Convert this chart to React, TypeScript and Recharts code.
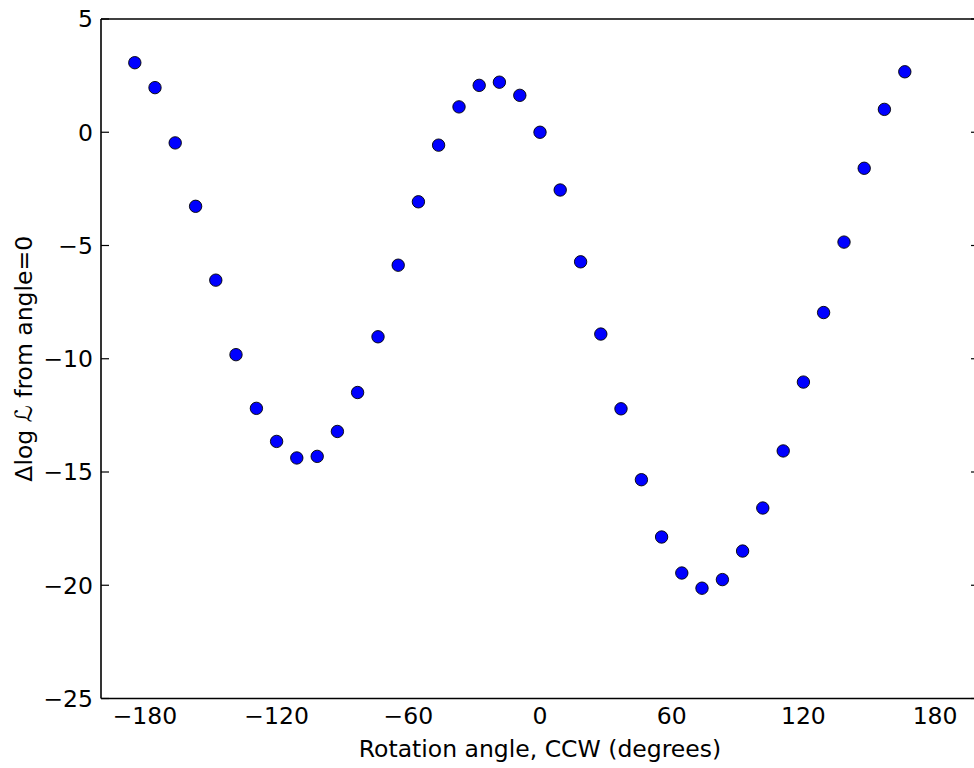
import React from 'react';
import { ScatterChart, Scatter, XAxis, YAxis, Label } from 'recharts';

const angles = [
  -184.6, -175.4, -166.2, -156.9, -147.7, -138.5, -129.2, -120.0, -110.8, -101.5,
  -92.3, -83.1, -73.8, -64.6, -55.4, -46.2, -36.9, -27.7, -18.5, -9.2,
  0.0, 9.2, 18.5, 27.7, 36.9, 46.2, 55.4, 64.6, 73.8, 83.1,
  92.3, 101.5, 110.8, 120.0, 129.2, 138.5, 147.7, 156.9, 166.2,
];

const deltaLogL = [
  3.07, 1.97, -0.47, -3.27, -6.53, -9.82, -12.19, -13.65, -14.38, -14.31,
  -13.21, -11.49, -9.03, -5.87, -3.07, -0.57, 1.12, 2.07, 2.21, 1.63,
  0.0, -2.55, -5.72, -8.91, -12.21, -15.34, -17.87, -19.46, -20.13, -19.75,
  -18.49, -16.59, -14.07, -11.03, -7.96, -4.85, -1.59, 1.01, 2.67,
];

const xTicks = [-180, -120, -60, 0, 60, 120, 180];
const yTicks = [-25, -20, -15, -10, -5, 0, 5];
const xDomain: [number, number] = [-200, 200];
const yDomain: [number, number] = [-25, 5];

const data = angles.map((a, i) => ({ angle: a, dlogl: deltaLogL[i] }));

const fmt = (v: number) => (v < 0 ? `\u2212${Math.abs(v)}` : `${v}`);

const Dot = (props: any) => {
  const { cx, cy } = props;
  return <circle cx={cx} cy={cy} r={6.2} fill="#0000ff" stroke="#000" strokeWidth={0.9} />;
};

const EmptyTick = () => <g />;

const FS = 23.5;
const tickStyle = { fill: '#000', fontSize: FS, fontFamily: 'DejaVu Sans' };
const spine = { stroke: '#000', strokeWidth: 1.6 };
const tickLn = { stroke: '#000', strokeWidth: 1.2 };

export default function App() {
  return (
    <div
      style={{
        position: 'absolute',
        left: 0,
        top: 0,
        width: 974,
        height: 768,
        overflow: 'hidden',
        background: '#fff',
        fontFamily: 'DejaVu Sans',
      }}
    >
      <ScatterChart width={990} height={768} margin={{ top: 19, right: 11, bottom: 0, left: 0 }}>
        <XAxis
          xAxisId="b"
          dataKey="angle"
          type="number"
          domain={xDomain}
          ticks={xTicks}
          allowDataOverflow
          orientation="bottom"
          height={69.5}
          tickLine={false}
          tickSize={0}
          tickMargin={9}
          tickFormatter={fmt}
          tick={tickStyle}
          axisLine={spine}
        >
          <Label
            content={(p: any) => {
              const vb = p.viewBox || {};
              return (
                <text
                  x={vb.x + vb.width / 2}
                  y={757}
                  textAnchor="middle"
                  fontSize={FS}
                  fontFamily="DejaVu Sans"
                  fill="#000"
                >
                  Rotation angle, CCW (degrees)
                </text>
              );
            }}
          />
        </XAxis>
        <XAxis
          xAxisId="bm"
          type="number"
          domain={xDomain}
          ticks={xTicks}
          allowDataOverflow
          orientation="bottom"
          mirror
          height={1}
          tick={EmptyTick}
          tickSize={8}
          tickLine={tickLn}
          axisLine={false}
        />
        <XAxis
          xAxisId="t"
          type="number"
          domain={xDomain}
          ticks={xTicks}
          allowDataOverflow
          orientation="top"
          mirror
          height={1}
          tick={EmptyTick}
          tickSize={8}
          tickLine={tickLn}
          axisLine={spine}
        />
        <YAxis
          yAxisId="l"
          dataKey="dlogl"
          type="number"
          domain={yDomain}
          ticks={yTicks}
          allowDataOverflow
          orientation="left"
          width={101}
          tickLine={false}
          tickSize={0}
          tickMargin={8}
          tickFormatter={fmt}
          tick={tickStyle}
          axisLine={spine}
        >
          <Label
            content={(p: any) => {
              const vb = p.viewBox || {};
              const cy = vb.y + vb.height / 2;
              return (
                <text
                  x={32}
                  y={cy}
                  transform={`rotate(-90, 32, ${cy})`}
                  textAnchor="middle"
                  fontSize={FS}
                  fontFamily="DejaVu Sans"
                  fill="#000"
                >
                  {'\u0394log '}
                  <tspan fontStyle="italic">{'\u2112'}</tspan>
                  {' from angle=0'}
                </text>
              );
            }}
          />
        </YAxis>
        <YAxis
          yAxisId="lm"
          type="number"
          domain={yDomain}
          ticks={yTicks}
          allowDataOverflow
          orientation="left"
          mirror
          width={1}
          tick={EmptyTick}
          tickSize={8}
          tickLine={tickLn}
          axisLine={false}
        />
        <YAxis
          yAxisId="r"
          type="number"
          domain={yDomain}
          ticks={yTicks}
          allowDataOverflow
          orientation="right"
          mirror
          width={1}
          tick={EmptyTick}
          tickSize={8}
          tickLine={tickLn}
          axisLine={spine}
        />
        <Scatter
          data={data}
          xAxisId="b"
          yAxisId="l"
          shape={<Dot />}
          isAnimationActive={false}
        />
      </ScatterChart>
    </div>
  );
}
